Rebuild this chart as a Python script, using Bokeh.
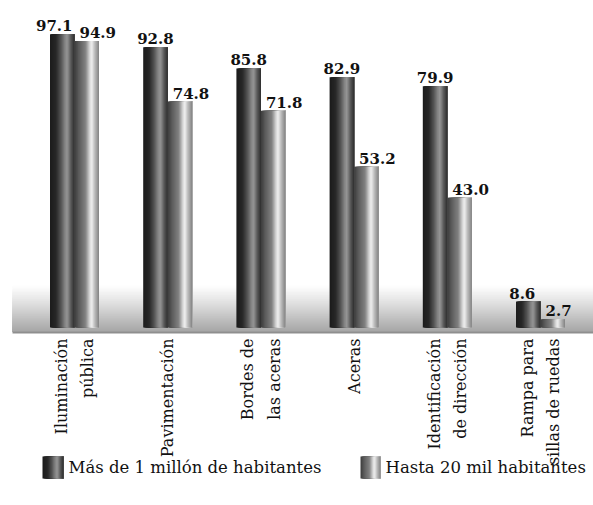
import math
from bokeh.plotting import figure
from bokeh.models import Range1d
from bokeh.core.properties import value
from bokeh.embed import file_html
from bokeh.resources import INLINE

# ---- data ----
categories = ["Iluminación\npública", "Pavimentación", "Bordes de\nlas aceras",
              "Aceras", "Identificación\nde dirección", "Rampa para\nsillas de ruedas"]
series_names = ["Más de 1 millón de habitantes", "Hasta 20 mil habitantes"]
big_cities = [97.1, 92.8, 85.8, 82.9, 79.9, 8.6]
small_towns = [94.9, 74.8, 71.8, 53.2, 43.0, 2.7]

# ---- layout constants (pixels) ----
W, H = 593, 500
OFF = 0              # page offset of the plot's top-left corner
UNIT = 93.2          # px per category
PX = 3.02            # px per value unit
BASE = 327 - OFF     # baseline, plot px from top
X0 = -(74 - OFF) / UNIT
X1 = X0 + W / UNIT
Y1 = BASE / PX
Y0 = -(H - BASE) / PX


def xd(page_x):
    return X0 + (page_x - OFF) / UNIT


def yd(page_y):
    return (BASE - (page_y - OFF)) / PX


def lerp_profile(profile, t):
    for (t0, c0), (t1, c1) in zip(profile[:-1], profile[1:]):
        if t0 <= t <= t1:
            f = 0 if t1 == t0 else (t - t0) / (t1 - t0)
            return c0 + (c1 - c0) * f
    return profile[-1][1]


def gray(v):
    v = int(max(0, min(255, round(v))))
    return "#%02x%02x%02x" % (v, v, v)


DARK = [(0, 28), (0.25, 40), (0.45, 85), (0.6, 130), (0.7, 150), (0.85, 90), (1.0, 45)]
LIGHT = [(0, 60), (0.2, 95), (0.45, 130), (0.62, 215), (0.7, 240), (0.82, 190), (1.0, 130)]

p = figure(width=W, height=H, x_range=Range1d(X0, X1), y_range=Range1d(Y0, Y1),
           output_backend="svg", toolbar_location=None, min_border=0,
           outline_line_color=None, background_fill_color="white")
p.axis.visible = False
p.grid.visible = False

# ---- floor band (gradient, overlapping strips) ----
NB = 48
band_top, band_bot = yd(284), yd(331)
bl, br, bt, bb, bc = [], [], [], [], []
for k in range(NB):
    t = k / (NB - 1)
    bl.append(xd(12)); br.append(X1 + 1)
    bt.append(band_top - (band_top - band_bot) * k / NB)
    bb.append(band_bot)
    bc.append(gray(255 - 88 * t ** 1.1))
p.quad(left=bl, right=br, top=bt, bottom=bb, fill_color=bc, line_color=None)
p.quad(left=[xd(12)], right=[X1 + 1], top=[yd(331)], bottom=[yd(333)],
       fill_color="#8f8f8f", line_color=None)

# ---- bars made of overlapping vertical strips ----
BW = 24.5 / UNIT
NS = 24


def strips(cx_list, vals, profile, x0_left):
    L, R, T, B, C = [], [], [], [], []
    for i, v in enumerate(vals):
        left = cx_list[i] + x0_left
        for k in range(NS):
            t = (k + 0.5) / NS
            L.append(left + BW * k / NS)
            R.append(left + BW)
            T.append(v)
            B.append(0.0)
            C.append(gray(lerp_profile(profile, t)))
    return L, R, T, B, C


idx = list(range(len(categories)))
L, R, T, B, C = strips(idx, big_cities, DARK, -BW)
p.quad(left=L, right=R, top=T, bottom=B, fill_color=C, line_color=None)
L, R, T, B, C = strips(idx, small_towns, LIGHT, 0.0)
p.quad(left=L, right=R, top=T, bottom=B, fill_color=C, line_color=None)

# ---- value labels ----
dark_off = [-8, 0, 0, 0, 0, -6]
p.text(x=[i - BW / 2 for i in idx], y=big_cities,
       text=["%.1f" % v for v in big_cities], x_offset=dark_off, y_offset=-3,
       text_align="center", text_baseline="bottom", text_font=value("DejaVu Serif"),
       text_font_style="bold", text_font_size="15px", text_color="#111111")
p.text(x=[i for i in idx], y=small_towns,
       text=["%.1f" % v for v in small_towns], x_offset=5, y_offset=-3,
       text_align="left", text_baseline="bottom", text_font=value("DejaVu Serif"),
       text_font_style="bold", text_font_size="15px", text_color="#111111")

# ---- category labels (vertical) ----
p.text(x=idx, y=[yd(338)] * len(idx), text=categories, angle=math.pi / 2,
       text_align="right", text_baseline="middle", text_font=value("DejaVu Serif"),
       text_font_size="16px", text_line_height=1.4, text_color="#111111")

# ---- legend ----
LNS = 20
sw_top, sw_bot = yd(456), yd(478)
for name, profile, (sx0, sx1, tx) in zip(series_names, [DARK, LIGHT],
                                         [(42, 63, 68), (360, 380, 385)]):
    l0, r0 = xd(sx0), xd(sx1)
    Ls, Rs, Cs = [], [], []
    for k in range(LNS):
        t = (k + 0.5) / LNS
        Ls.append(l0 + (r0 - l0) * k / LNS)
        Rs.append(r0)
        Cs.append(gray(lerp_profile(profile, t)))
    p.quad(left=Ls, right=Rs, top=[sw_top] * LNS, bottom=[sw_bot] * LNS,
           fill_color=Cs, line_color=None)
    p.text(x=[xd(tx)], y=[(sw_top + sw_bot) / 2], text=[name],
           text_align="left", text_baseline="middle", text_font=value("DejaVu Serif"),
           text_font_size="16.5px", text_color="#111111")

open("out.html", "w").write(file_html(p, INLINE))
